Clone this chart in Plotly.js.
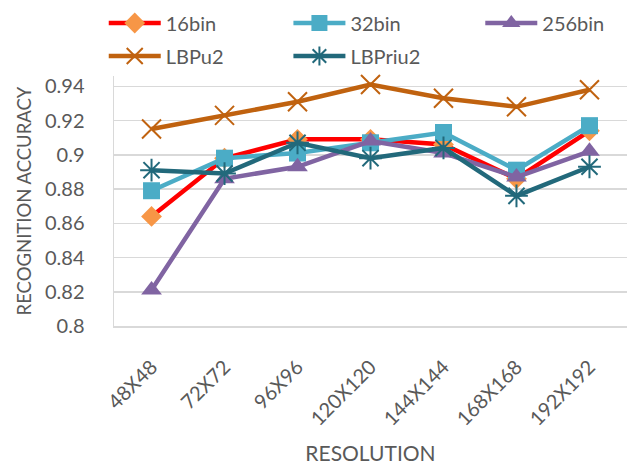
<!DOCTYPE html>
<html>
<head>
<meta charset="utf-8">
<script src="https://cdn.plot.ly/plotly-3.0.1.min.js"></script>
<style>html,body{margin:0;padding:0;background:#fff;}#chart{width:638px;height:465px;}</style>
</head>
<body>
<div id="chart"></div>
<script>
// Recognition accuracy per input resolution for each feature variant
const resolutions = ["48X48", "72X72", "96X96", "120X120", "144X144", "168X168", "192X192"];
const bin16   = [0.864, 0.898, 0.909, 0.909, 0.906, 0.886, 0.914];
const bin32   = [0.879, 0.898, 0.901, 0.907, 0.913, 0.891, 0.917];
const bin256  = [0.821, 0.886, 0.893, 0.908, 0.901, 0.887, 0.902];
const lbpU2   = [0.915, 0.923, 0.931, 0.941, 0.933, 0.928, 0.938];
const lbpRiu2 = [0.891, 0.889, 0.907, 0.898, 0.904, 0.876, 0.893];
const yTicks  = [0.8, 0.82, 0.84, 0.86, 0.88, 0.9, 0.92, 0.94];

const font = "Lato, 'Open Sans', sans-serif";
const grey = "#595959";

// each legend column is its own legend box so the columns line up
function series(name, y, lineColor, marker, legendId) {
  return {
    type: "scatter", mode: "lines+markers", name: name,
    x: resolutions, y: y,
    line: {color: lineColor, width: 4.5},
    marker: marker,
    legend: legendId,
    legendgroup: name,
    cliponaxis: false
  };
}

const data = [
  series("16bin", bin16, "#FF0000", {symbol: "diamond", size: 16, color: "#F79646"}, "legend"),
  series("32bin", bin32, "#4BACC6", {symbol: "square", size: 17, color: "#4BACC6"}, "legend2"),
  series("256bin", bin256, "#8064A2", {symbol: "triangle-up", size: 18, color: "#8064A2"}, "legend3"),
  series("LBPu2", lbpU2, "#C0620F", {symbol: "x-thin-open", size: 19, color: "#C0620F", line: {width: 2, color: "#C0620F"}}, "legend"),
  series("LBPriu2", lbpRiu2, "#22697B", {symbol: "asterisk-open", size: 19, color: "#22697B", line: {width: 2, color: "#22697B"}}, "legend2")
];

function legendColumn(x) {
  return {
    orientation: "v", x: x, xanchor: "left", y: 1.29, yanchor: "top",
    bgcolor: "rgba(0,0,0,0)",
    font: {size: 20, color: grey, family: font},
    tracegroupgap: 4, itemwidth: 52
  };
}

const layout = {
  width: 638, height: 465,
  margin: {l: 114, r: 11, t: 76, b: 139, autoexpand: false},
  paper_bgcolor: "#fff", plot_bgcolor: "#fff",
  font: {family: font, color: grey},
  showlegend: true,
  legend: legendColumn(-0.02),
  legend2: legendColumn(0.340),
  legend3: legendColumn(0.714),
  xaxis: {
    type: "category",
    tickangle: -45,
    tickfont: {size: 20, color: grey},
    ticklabelstandoff: 20,
    showgrid: false,
    showline: true, linecolor: "#D9D9D9", linewidth: 1.5,
    ticks: "",
    title: {text: "RESOLUTION", font: {size: 21, color: grey}, standoff: 22}
  },
  yaxis: {
    range: [0.8, 0.946],
    tickvals: yTicks,
    ticktext: yTicks.map(v => String(v)),
    tickfont: {size: 20, color: grey},
    ticklabelstandoff: 24,
    showgrid: true, gridcolor: "#D9D9D9", gridwidth: 1.5,
    zeroline: false,
    showline: true, linecolor: "#D9D9D9", linewidth: 1.5,
    ticks: "",
    title: {text: "RECOGNITION ACCURACY", font: {size: 18.5, color: grey}, standoff: 8}
  }
};

Plotly.newPlot("chart", data, layout, {displayModeBar: false, staticPlot: true});
</script>
</body>
</html>
